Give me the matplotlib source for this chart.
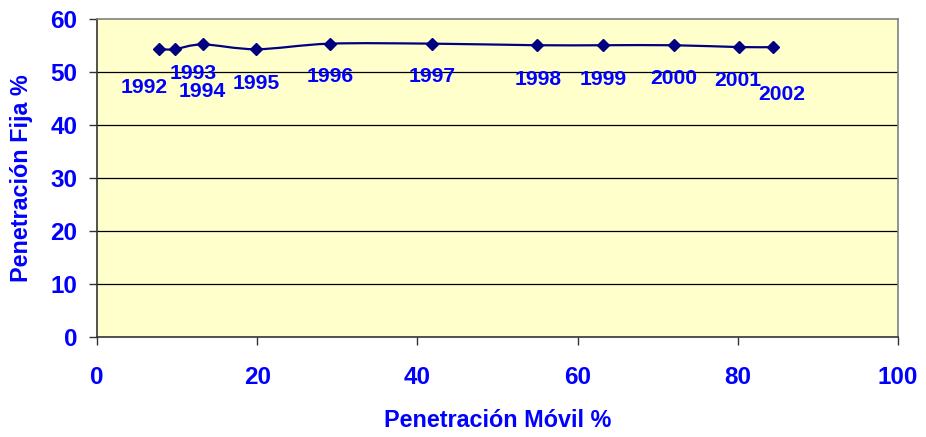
import matplotlib
matplotlib.use("Agg")
import matplotlib.pyplot as plt
from matplotlib.path import Path
from matplotlib.patches import PathPatch
import numpy as np

plt.rcParams['font.family'] = ['Liberation Sans', 'DejaVu Sans']

# Data
years = ["1992", "1993", "1994", "1995", "1996", "1997", "1998", "1999", "2000", "2001", "2002"]
movil = [7.7, 9.7, 13.2, 19.9, 29.1, 41.8, 54.9, 63.2, 72.0, 80.2, 84.4]
fija = [54.3, 54.3, 55.2, 54.3, 55.35, 55.35, 55.05, 55.05, 55.05, 54.7, 54.7]
xticks = [0, 20, 40, 60, 80, 100]
yticks = [0, 10, 20, 30, 40, 50, 60]

# label offsets in pixels (layout)
label_offsets = [(-14, -38), (18, -24), (0, -47), (0, -34), (0, -33), (0, -33),
                 (1, -34), (0, -34), (0, -33), (-2, -33), (9, -47)]

blue = "#0000FF"
navy = "#000080"

fig = plt.figure(figsize=(9.26, 4.37), dpi=100)
ax = fig.add_axes([97/926, 1 - 337/437, (898-97)/926, (337-19)/437])
ax.set_facecolor("#FFFFCC")
ax.set_xlim(0, 100)
ax.set_ylim(0, 60)

# gridlines
for yv in yticks[1:-1]:
    ax.axhline(yv, color="black", lw=0.9, zorder=1)

# smoothed line (Catmull-Rom -> Bezier, like Excel smoothing)
pts = np.column_stack([movil, fija])
n = len(pts)
verts = [tuple(pts[0])]
codes = [Path.MOVETO]
for i in range(n - 1):
    p0 = pts[i - 1] if i > 0 else pts[i]
    p1 = pts[i]
    p2 = pts[i + 1]
    p3 = pts[i + 2] if i + 2 < n else pts[i + 1]
    c1 = p1 + (p2 - p0) / 6.0
    c2 = p2 - (p3 - p1) / 6.0
    verts += [tuple(c1), tuple(c2), tuple(p2)]
    codes += [Path.CURVE4] * 3
path = Path(verts, codes)
ax.add_patch(PathPatch(path, facecolor="none", edgecolor=navy, lw=1.6, zorder=3))
ax.plot(movil, fija, linestyle="none", marker="D", ms=6, color=navy, zorder=4)

for yr, xv, yv, (dx, dy) in zip(years, movil, fija, label_offsets):
    ax.annotate(yr, (xv, yv), xytext=(dx, dy), textcoords="offset pixels",
                ha="center", va="center", color=blue, fontsize=15.2,
                fontweight="bold", zorder=5)

ax.set_xticks(xticks)
ax.set_yticks(yticks)
ax.tick_params(axis="both", direction="out", length=6, width=1, color="#333333",
               labelcolor=blue, labelsize=17.5)
ax.tick_params(axis="x", pad=15)
ax.tick_params(axis="y", pad=8)
for lab in ax.get_xticklabels() + ax.get_yticklabels():
    lab.set_fontweight("bold")

for s in ["left", "bottom"]:
    ax.spines[s].set_color("#333333")
    ax.spines[s].set_linewidth(1.2)
for s in ["top", "right"]:
    ax.spines[s].set_color("#808080")
    ax.spines[s].set_linewidth(1.2)

ax.set_xlabel("Penetración Móvil %", color=blue, fontsize=16.8, fontweight="bold", labelpad=14)
ax.set_ylabel("Penetración Fija %", color=blue, fontsize=16.8, fontweight="bold")
ax.yaxis.set_label_coords(-0.0795, 0.5)

fig.savefig("out.png", dpi=100, facecolor="white")
